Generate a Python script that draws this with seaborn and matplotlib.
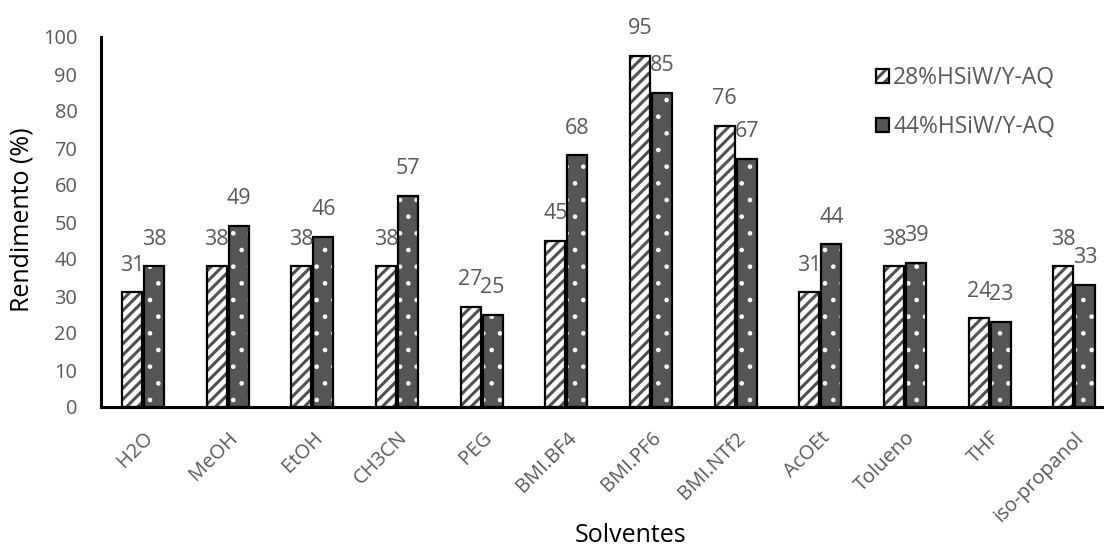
import matplotlib
matplotlib.use("Agg")
import matplotlib.pyplot as plt
from matplotlib.colors import to_rgba
import seaborn as sns
import pandas as pd

# Yield (%) per solvent for the two catalysts
solvents = ["H2O", "MeOH", "EtOH", "CH3CN", "PEG", "BMI.BF4", "BMI.PF6",
            "BMI.NTf2", "AcOEt", "Tolueno", "THF", "iso-propanol"]
series_names = ["28%HSiW/Y-AQ", "44%HSiW/Y-AQ"]
yield_28 = [31, 38, 38, 38, 27, 45, 95, 76, 31, 38, 24, 38]
yield_44 = [38, 49, 46, 57, 25, 68, 85, 67, 44, 39, 23, 33]
y_ticks = [0, 10, 20, 30, 40, 50, 60, 70, 80, 90, 100]

df = pd.DataFrame({
    "Solvente": solvents * 2,
    "Catalisador": [series_names[0]] * len(solvents) + [series_names[1]] * len(solvents),
    "Rendimento": yield_28 + yield_44,
})

sns.set_theme(style="white")
plt.rcParams["font.family"] = ["Open Sans", "DejaVu Sans"]
plt.rcParams["hatch.linewidth"] = 2.2

GREY_TXT = "#595959"
DARK = "#555555"

W, H = 1104, 547
fig = plt.figure(figsize=(W / 100, H / 100), dpi=100)
ax = fig.add_axes([101 / W, (H - 407) / H, (W - 101) / W, 370 / H])

sns.barplot(data=df, x="Solvente", y="Rendimento", hue="Catalisador",
            hue_order=series_names, order=solvents, width=0.52, gap=0.09,
            legend=False, ax=ax, errorbar=None)

styles = [
    dict(face="white", hatch="///", hcolor="#505050", hlw=2.2),
    dict(face=DARK, hatch=".", hcolor="white", hlw=0.9),
]


def style_patch(p, st):
    p.set_facecolor(st["face"])
    p.set_hatch(st["hatch"])
    p.set_edgecolor("black")
    p.set_linewidth(1.6)
    # hatch colour kept separate from the black outline
    p._hatch_color = to_rgba(st["hcolor"])
    if hasattr(p, "set_hatch_linewidth"):
        p.set_hatch_linewidth(st["hlw"])
    else:
        p._hatch_linewidth = st["hlw"]


for cont, st in zip(ax.containers, styles):
    for p in cont.patches:
        style_patch(p, st)

# value labels above each bar
for cont, vals in zip(ax.containers, [yield_28, yield_44]):
    ax.bar_label(cont, labels=[str(v) for v in vals], padding=12,
                 fontsize=15.5, color=GREY_TXT)

ax.set_ylim(0, 100)
ax.set_xlim(-0.496, 11.35)
ax.set_yticks(y_ticks)
ax.set_yticklabels([str(t) for t in y_ticks], fontsize=14.4, color=GREY_TXT)
ax.tick_params(axis="y", length=0, pad=17)
ax.tick_params(axis="x", length=0, pad=15)
ax.set_xticks(range(len(solvents)))
ax.set_xticklabels(solvents, rotation=45, ha="right", rotation_mode="anchor",
                   fontsize=14.4, color=GREY_TXT)

for side in ["top", "right"]:
    ax.spines[side].set_visible(False)
for side in ["left", "bottom"]:
    ax.spines[side].set_color("black")
    ax.spines[side].set_linewidth(2.2)

ax.set_ylabel("")
ax.set_xlabel("")
fig.text(22 / W, 1 - 220 / H, "Rendimento (%)", fontsize=18, color="black",
         rotation=90, ha="center", va="center")
fig.text(631 / W, 1 - 536 / H, "Solventes", fontsize=18, color="black",
         ha="center", va="center")

handles = [ax.containers[0].patches[0], ax.containers[1].patches[0]]
leg = ax.legend(handles, series_names, loc="upper left",
                bbox_to_anchor=(876 / W, 1 - 66 / H), bbox_transform=fig.transFigure,
                frameon=False, fontsize=16.5, labelspacing=1.1,
                handlelength=0.55, handleheight=0.55, handletextpad=0.2,
                borderpad=0, borderaxespad=0)
for t in leg.get_texts():
    t.set_color(GREY_TXT)
for lh, st in zip(leg.legend_handles, styles):
    style_patch(lh, st)

fig.savefig("out.png", dpi=100)
